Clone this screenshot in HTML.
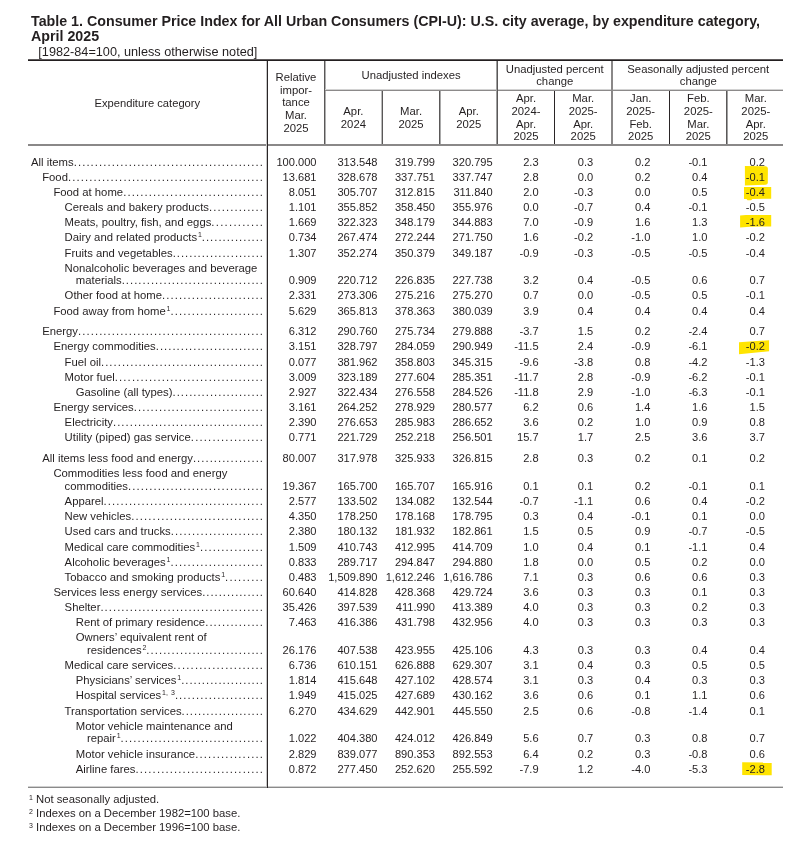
<!DOCTYPE html>
<html><head><meta charset="utf-8">
<style>
html,body{margin:0;padding:0;background:#fff;}
body{will-change:transform;width:805px;height:845px;position:relative;overflow:hidden;font-family:"Liberation Sans",sans-serif;color:#231f20;}
.t{position:absolute;white-space:nowrap;line-height:1;}
.sup{font-size:7.0px;position:relative;top:-3.6px;margin-left:0.8px;word-spacing:1.2px;}
.ln{position:absolute;background:#231f20;}
.hl{position:absolute;}
</style></head><body>
<svg width="805" height="845" style="position:absolute;left:0;top:0">
<g fill="#ffe400">
<path d="M744.9 166 L765.8 166.3 Q767.9 166.5 767.9 168.6 L767.8 183 Q767.6 184.7 765.5 184.8 L744.9 185.4 Z"/>
<path d="M744 187.1 L771.2 187.1 L771.2 198.8 L752.5 198.9 L751 200.2 L747.5 200.3 L746.5 198.9 L744 198.9 Z"/>
<path d="M740.1 215.6 L746 215.1 L771.2 215.0 L771.2 226.4 L750 226.8 L740.1 227.6 Z"/>
<path d="M739 342.2 L769.1 340.3 L769.1 351.3 L739 354.3 Z"/>
<path d="M742.2 762.2 L771.7 762.6 L771.7 775.2 L742.2 775.0 Z"/>
</g>
</svg>
<div class="ln" style="left:28px;top:59px;width:755px;height:1px;background:#5e5a5b"></div>
<div class="ln" style="left:28px;top:60px;width:755px;height:1px;background:#231f20"></div>
<div class="ln" style="left:28px;top:144px;width:755px;height:1px;background:#8a8888"></div>
<div class="ln" style="left:28px;top:145px;width:755px;height:1px;background:#8a8888"></div>
<div class="ln" style="left:28px;top:786px;width:755px;height:1px;background:#d0d0d0"></div>
<div class="ln" style="left:28px;top:787px;width:755px;height:1px;background:#8a8a8a"></div>
<div class="ln" style="left:325px;top:89px;width:458px;height:1px;background:#d2d2d2"></div>
<div class="ln" style="left:325px;top:90px;width:458px;height:1px;background:#8c8a8a"></div>
<div class="ln" style="left:324px;top:61px;width:1px;height:83px;background:#5a5858"></div>
<div class="ln" style="left:325px;top:61px;width:1px;height:28px;background:#b0b0b0"></div>
<div class="ln" style="left:325px;top:91px;width:1px;height:53px;background:#b0b0b0"></div>
<div class="ln" style="left:497px;top:61px;width:1px;height:83px;background:#5a5858"></div>
<div class="ln" style="left:496px;top:61px;width:1px;height:83px;background:#a0a0a0"></div>
<div class="ln" style="left:611px;top:61px;width:1px;height:83px;background:#8a8888"></div>
<div class="ln" style="left:612px;top:61px;width:1px;height:83px;background:#8a8888"></div>
<div class="ln" style="left:266px;top:61px;width:1px;height:726px;background:#c8c8c8"></div>
<div class="ln" style="left:267px;top:61px;width:1px;height:727px;background:#2a2526"></div>
<div class="ln" style="left:382px;top:91px;width:1px;height:53px;background:#5a5858"></div>
<div class="ln" style="left:381px;top:91px;width:1px;height:53px;background:#bbbbbb"></div>
<div class="ln" style="left:439px;top:91px;width:1px;height:53px;background:#5a5858"></div>
<div class="ln" style="left:440px;top:91px;width:1px;height:53px;background:#aaaaaa"></div>
<div class="ln" style="left:554px;top:91px;width:1px;height:53px;background:#2a2526"></div>
<div class="ln" style="left:669px;top:91px;width:1px;height:53px;background:#2a2526"></div>
<div class="ln" style="left:726px;top:91px;width:1px;height:53px;background:#5a5858"></div>
<div class="ln" style="left:727px;top:91px;width:1px;height:53px;background:#a0a0a0"></div>
<div class="t" style="left:31.00px;top:157.00px;font-size:11.3px;font-weight:normal;">All items</div>
<div class="t dots" style="left:73.70px;top:157px;font-size:11.3px;letter-spacing:1.091px">.............................................</div>
<div class="t" style="right:488.50px;top:157.00px;font-size:11.1px;font-weight:normal;">100.000</div>
<div class="t" style="right:427.50px;top:157.00px;font-size:11.1px;font-weight:normal;">313.548</div>
<div class="t" style="right:370.00px;top:157.00px;font-size:11.1px;font-weight:normal;">319.799</div>
<div class="t" style="right:312.30px;top:157.00px;font-size:11.1px;font-weight:normal;">320.795</div>
<div class="t" style="right:266.40px;top:157.00px;font-size:11.1px;font-weight:normal;">2.3</div>
<div class="t" style="right:211.80px;top:157.00px;font-size:11.1px;font-weight:normal;">0.3</div>
<div class="t" style="right:154.70px;top:157.00px;font-size:11.1px;font-weight:normal;">0.2</div>
<div class="t" style="right:97.50px;top:157.00px;font-size:11.1px;font-weight:normal;">-0.1</div>
<div class="t" style="right:40.10px;top:157.00px;font-size:11.1px;font-weight:normal;">0.2</div>
<div class="t" style="left:42.20px;top:172.00px;font-size:11.3px;font-weight:normal;">Food</div>
<div class="t dots" style="left:67.96px;top:172px;font-size:11.3px;letter-spacing:1.125px">..............................................</div>
<div class="t" style="right:488.50px;top:172.00px;font-size:11.1px;font-weight:normal;">13.681</div>
<div class="t" style="right:427.50px;top:172.00px;font-size:11.1px;font-weight:normal;">328.678</div>
<div class="t" style="right:370.00px;top:172.00px;font-size:11.1px;font-weight:normal;">337.751</div>
<div class="t" style="right:312.30px;top:172.00px;font-size:11.1px;font-weight:normal;">337.747</div>
<div class="t" style="right:266.40px;top:172.00px;font-size:11.1px;font-weight:normal;">2.8</div>
<div class="t" style="right:211.80px;top:172.00px;font-size:11.1px;font-weight:normal;">0.0</div>
<div class="t" style="right:154.70px;top:172.00px;font-size:11.1px;font-weight:normal;">0.2</div>
<div class="t" style="right:97.50px;top:172.00px;font-size:11.1px;font-weight:normal;">0.4</div>
<div class="t" style="right:40.10px;top:172.00px;font-size:11.1px;font-weight:normal;">-0.1</div>
<div class="t" style="left:53.40px;top:187.00px;font-size:11.3px;font-weight:normal;">Food at home</div>
<div class="t dots" style="left:123.13px;top:187px;font-size:11.3px;letter-spacing:1.133px">.................................</div>
<div class="t" style="right:488.50px;top:187.00px;font-size:11.1px;font-weight:normal;">8.051</div>
<div class="t" style="right:427.50px;top:187.00px;font-size:11.1px;font-weight:normal;">305.707</div>
<div class="t" style="right:370.00px;top:187.00px;font-size:11.1px;font-weight:normal;">312.815</div>
<div class="t" style="right:312.30px;top:187.00px;font-size:11.1px;font-weight:normal;">311.840</div>
<div class="t" style="right:266.40px;top:187.00px;font-size:11.1px;font-weight:normal;">2.0</div>
<div class="t" style="right:211.80px;top:187.00px;font-size:11.1px;font-weight:normal;">-0.3</div>
<div class="t" style="right:154.70px;top:187.00px;font-size:11.1px;font-weight:normal;">0.0</div>
<div class="t" style="right:97.50px;top:187.00px;font-size:11.1px;font-weight:normal;">0.5</div>
<div class="t" style="right:40.10px;top:187.00px;font-size:11.1px;font-weight:normal;">-0.4</div>
<div class="t" style="left:64.60px;top:202.00px;font-size:11.3px;font-weight:normal;">Cereals and bakery products</div>
<div class="t dots" style="left:209.07px;top:202px;font-size:11.3px;letter-spacing:1.091px">.............</div>
<div class="t" style="right:488.50px;top:202.00px;font-size:11.1px;font-weight:normal;">1.101</div>
<div class="t" style="right:427.50px;top:202.00px;font-size:11.1px;font-weight:normal;">355.852</div>
<div class="t" style="right:370.00px;top:202.00px;font-size:11.1px;font-weight:normal;">358.450</div>
<div class="t" style="right:312.30px;top:202.00px;font-size:11.1px;font-weight:normal;">355.976</div>
<div class="t" style="right:266.40px;top:202.00px;font-size:11.1px;font-weight:normal;">0.0</div>
<div class="t" style="right:211.80px;top:202.00px;font-size:11.1px;font-weight:normal;">-0.7</div>
<div class="t" style="right:154.70px;top:202.00px;font-size:11.1px;font-weight:normal;">0.4</div>
<div class="t" style="right:97.50px;top:202.00px;font-size:11.1px;font-weight:normal;">-0.1</div>
<div class="t" style="right:40.10px;top:202.00px;font-size:11.1px;font-weight:normal;">-0.5</div>
<div class="t" style="left:64.60px;top:217.00px;font-size:11.3px;font-weight:normal;">Meats, poultry, fish, and eggs</div>
<div class="t dots" style="left:211.37px;top:217px;font-size:11.3px;letter-spacing:1.267px">............</div>
<div class="t" style="right:488.50px;top:217.00px;font-size:11.1px;font-weight:normal;">1.669</div>
<div class="t" style="right:427.50px;top:217.00px;font-size:11.1px;font-weight:normal;">322.323</div>
<div class="t" style="right:370.00px;top:217.00px;font-size:11.1px;font-weight:normal;">348.179</div>
<div class="t" style="right:312.30px;top:217.00px;font-size:11.1px;font-weight:normal;">344.883</div>
<div class="t" style="right:266.40px;top:217.00px;font-size:11.1px;font-weight:normal;">7.0</div>
<div class="t" style="right:211.80px;top:217.00px;font-size:11.1px;font-weight:normal;">-0.9</div>
<div class="t" style="right:154.70px;top:217.00px;font-size:11.1px;font-weight:normal;">1.6</div>
<div class="t" style="right:97.50px;top:217.00px;font-size:11.1px;font-weight:normal;">1.3</div>
<div class="t" style="right:40.10px;top:217.00px;font-size:11.1px;font-weight:normal;">-1.6</div>
<div class="t" style="left:64.60px;top:232.00px;font-size:11.3px;font-weight:normal;">Dairy and related products<span class="sup">1</span></div>
<div class="t dots" style="left:201.83px;top:232px;font-size:11.3px;letter-spacing:1.004px">...............</div>
<div class="t" style="right:488.50px;top:232.00px;font-size:11.1px;font-weight:normal;">0.734</div>
<div class="t" style="right:427.50px;top:232.00px;font-size:11.1px;font-weight:normal;">267.474</div>
<div class="t" style="right:370.00px;top:232.00px;font-size:11.1px;font-weight:normal;">272.244</div>
<div class="t" style="right:312.30px;top:232.00px;font-size:11.1px;font-weight:normal;">271.750</div>
<div class="t" style="right:266.40px;top:232.00px;font-size:11.1px;font-weight:normal;">1.6</div>
<div class="t" style="right:211.80px;top:232.00px;font-size:11.1px;font-weight:normal;">-0.2</div>
<div class="t" style="right:154.70px;top:232.00px;font-size:11.1px;font-weight:normal;">-1.0</div>
<div class="t" style="right:97.50px;top:232.00px;font-size:11.1px;font-weight:normal;">1.0</div>
<div class="t" style="right:40.10px;top:232.00px;font-size:11.1px;font-weight:normal;">-0.2</div>
<div class="t" style="left:64.60px;top:248.00px;font-size:11.3px;font-weight:normal;">Fruits and vegetables</div>
<div class="t dots" style="left:172.64px;top:248px;font-size:11.3px;letter-spacing:1.013px">......................</div>
<div class="t" style="right:488.50px;top:248.00px;font-size:11.1px;font-weight:normal;">1.307</div>
<div class="t" style="right:427.50px;top:248.00px;font-size:11.1px;font-weight:normal;">352.274</div>
<div class="t" style="right:370.00px;top:248.00px;font-size:11.1px;font-weight:normal;">350.379</div>
<div class="t" style="right:312.30px;top:248.00px;font-size:11.1px;font-weight:normal;">349.187</div>
<div class="t" style="right:266.40px;top:248.00px;font-size:11.1px;font-weight:normal;">-0.9</div>
<div class="t" style="right:211.80px;top:248.00px;font-size:11.1px;font-weight:normal;">-0.3</div>
<div class="t" style="right:154.70px;top:248.00px;font-size:11.1px;font-weight:normal;">-0.5</div>
<div class="t" style="right:97.50px;top:248.00px;font-size:11.1px;font-weight:normal;">-0.5</div>
<div class="t" style="right:40.10px;top:248.00px;font-size:11.1px;font-weight:normal;">-0.4</div>
<div class="t" style="left:64.60px;top:263.00px;font-size:11.3px;font-weight:normal;">Nonalcoholic beverages and beverage</div>
<div class="t" style="left:75.80px;top:275.00px;font-size:11.3px;font-weight:normal;">materials</div>
<div class="t dots" style="left:121.64px;top:275px;font-size:11.3px;letter-spacing:1.048px">..................................</div>
<div class="t" style="right:488.50px;top:275.00px;font-size:11.1px;font-weight:normal;">0.909</div>
<div class="t" style="right:427.50px;top:275.00px;font-size:11.1px;font-weight:normal;">220.712</div>
<div class="t" style="right:370.00px;top:275.00px;font-size:11.1px;font-weight:normal;">226.835</div>
<div class="t" style="right:312.30px;top:275.00px;font-size:11.1px;font-weight:normal;">227.738</div>
<div class="t" style="right:266.40px;top:275.00px;font-size:11.1px;font-weight:normal;">3.2</div>
<div class="t" style="right:211.80px;top:275.00px;font-size:11.1px;font-weight:normal;">0.4</div>
<div class="t" style="right:154.70px;top:275.00px;font-size:11.1px;font-weight:normal;">-0.5</div>
<div class="t" style="right:97.50px;top:275.00px;font-size:11.1px;font-weight:normal;">0.6</div>
<div class="t" style="right:40.10px;top:275.00px;font-size:11.1px;font-weight:normal;">0.7</div>
<div class="t" style="left:64.60px;top:290.00px;font-size:11.3px;font-weight:normal;">Other food at home</div>
<div class="t dots" style="left:161.96px;top:290px;font-size:11.3px;letter-spacing:1.116px">........................</div>
<div class="t" style="right:488.50px;top:290.00px;font-size:11.1px;font-weight:normal;">2.331</div>
<div class="t" style="right:427.50px;top:290.00px;font-size:11.1px;font-weight:normal;">273.306</div>
<div class="t" style="right:370.00px;top:290.00px;font-size:11.1px;font-weight:normal;">275.216</div>
<div class="t" style="right:312.30px;top:290.00px;font-size:11.1px;font-weight:normal;">275.270</div>
<div class="t" style="right:266.40px;top:290.00px;font-size:11.1px;font-weight:normal;">0.7</div>
<div class="t" style="right:211.80px;top:290.00px;font-size:11.1px;font-weight:normal;">0.0</div>
<div class="t" style="right:154.70px;top:290.00px;font-size:11.1px;font-weight:normal;">-0.5</div>
<div class="t" style="right:97.50px;top:290.00px;font-size:11.1px;font-weight:normal;">0.5</div>
<div class="t" style="right:40.10px;top:290.00px;font-size:11.1px;font-weight:normal;">-0.1</div>
<div class="t" style="left:53.40px;top:306.00px;font-size:11.3px;font-weight:normal;">Food away from home<span class="sup">1</span></div>
<div class="t dots" style="left:170.51px;top:306px;font-size:11.3px;letter-spacing:1.114px">......................</div>
<div class="t" style="right:488.50px;top:306.00px;font-size:11.1px;font-weight:normal;">5.629</div>
<div class="t" style="right:427.50px;top:306.00px;font-size:11.1px;font-weight:normal;">365.813</div>
<div class="t" style="right:370.00px;top:306.00px;font-size:11.1px;font-weight:normal;">378.363</div>
<div class="t" style="right:312.30px;top:306.00px;font-size:11.1px;font-weight:normal;">380.039</div>
<div class="t" style="right:266.40px;top:306.00px;font-size:11.1px;font-weight:normal;">3.9</div>
<div class="t" style="right:211.80px;top:306.00px;font-size:11.1px;font-weight:normal;">0.4</div>
<div class="t" style="right:154.70px;top:306.00px;font-size:11.1px;font-weight:normal;">0.4</div>
<div class="t" style="right:97.50px;top:306.00px;font-size:11.1px;font-weight:normal;">0.4</div>
<div class="t" style="right:40.10px;top:306.00px;font-size:11.1px;font-weight:normal;">0.4</div>
<div class="t" style="left:42.20px;top:326.00px;font-size:11.3px;font-weight:normal;">Energy</div>
<div class="t dots" style="left:78.00px;top:326px;font-size:11.3px;letter-spacing:1.089px">............................................</div>
<div class="t" style="right:488.50px;top:326.00px;font-size:11.1px;font-weight:normal;">6.312</div>
<div class="t" style="right:427.50px;top:326.00px;font-size:11.1px;font-weight:normal;">290.760</div>
<div class="t" style="right:370.00px;top:326.00px;font-size:11.1px;font-weight:normal;">275.734</div>
<div class="t" style="right:312.30px;top:326.00px;font-size:11.1px;font-weight:normal;">279.888</div>
<div class="t" style="right:266.40px;top:326.00px;font-size:11.1px;font-weight:normal;">-3.7</div>
<div class="t" style="right:211.80px;top:326.00px;font-size:11.1px;font-weight:normal;">1.5</div>
<div class="t" style="right:154.70px;top:326.00px;font-size:11.1px;font-weight:normal;">0.2</div>
<div class="t" style="right:97.50px;top:326.00px;font-size:11.1px;font-weight:normal;">-2.4</div>
<div class="t" style="right:40.10px;top:326.00px;font-size:11.1px;font-weight:normal;">0.7</div>
<div class="t" style="left:53.40px;top:341.00px;font-size:11.3px;font-weight:normal;">Energy commodities</div>
<div class="t dots" style="left:155.77px;top:341px;font-size:11.3px;letter-spacing:1.023px">..........................</div>
<div class="t" style="right:488.50px;top:341.00px;font-size:11.1px;font-weight:normal;">3.151</div>
<div class="t" style="right:427.50px;top:341.00px;font-size:11.1px;font-weight:normal;">328.797</div>
<div class="t" style="right:370.00px;top:341.00px;font-size:11.1px;font-weight:normal;">284.059</div>
<div class="t" style="right:312.30px;top:341.00px;font-size:11.1px;font-weight:normal;">290.949</div>
<div class="t" style="right:266.40px;top:341.00px;font-size:11.1px;font-weight:normal;">-11.5</div>
<div class="t" style="right:211.80px;top:341.00px;font-size:11.1px;font-weight:normal;">2.4</div>
<div class="t" style="right:154.70px;top:341.00px;font-size:11.1px;font-weight:normal;">-0.9</div>
<div class="t" style="right:97.50px;top:341.00px;font-size:11.1px;font-weight:normal;">-6.1</div>
<div class="t" style="right:40.10px;top:341.00px;font-size:11.1px;font-weight:normal;">-0.2</div>
<div class="t" style="left:64.60px;top:357.00px;font-size:11.3px;font-weight:normal;">Fuel oil</div>
<div class="t dots" style="left:101.03px;top:357px;font-size:11.3px;letter-spacing:1.040px">.......................................</div>
<div class="t" style="right:488.50px;top:357.00px;font-size:11.1px;font-weight:normal;">0.077</div>
<div class="t" style="right:427.50px;top:357.00px;font-size:11.1px;font-weight:normal;">381.962</div>
<div class="t" style="right:370.00px;top:357.00px;font-size:11.1px;font-weight:normal;">358.803</div>
<div class="t" style="right:312.30px;top:357.00px;font-size:11.1px;font-weight:normal;">345.315</div>
<div class="t" style="right:266.40px;top:357.00px;font-size:11.1px;font-weight:normal;">-9.6</div>
<div class="t" style="right:211.80px;top:357.00px;font-size:11.1px;font-weight:normal;">-3.8</div>
<div class="t" style="right:154.70px;top:357.00px;font-size:11.1px;font-weight:normal;">0.8</div>
<div class="t" style="right:97.50px;top:357.00px;font-size:11.1px;font-weight:normal;">-4.2</div>
<div class="t" style="right:40.10px;top:357.00px;font-size:11.1px;font-weight:normal;">-1.3</div>
<div class="t" style="left:64.60px;top:372.00px;font-size:11.3px;font-weight:normal;">Motor fuel</div>
<div class="t dots" style="left:114.84px;top:372px;font-size:11.3px;letter-spacing:1.125px">...................................</div>
<div class="t" style="right:488.50px;top:372.00px;font-size:11.1px;font-weight:normal;">3.009</div>
<div class="t" style="right:427.50px;top:372.00px;font-size:11.1px;font-weight:normal;">323.189</div>
<div class="t" style="right:370.00px;top:372.00px;font-size:11.1px;font-weight:normal;">277.604</div>
<div class="t" style="right:312.30px;top:372.00px;font-size:11.1px;font-weight:normal;">285.351</div>
<div class="t" style="right:266.40px;top:372.00px;font-size:11.1px;font-weight:normal;">-11.7</div>
<div class="t" style="right:211.80px;top:372.00px;font-size:11.1px;font-weight:normal;">2.8</div>
<div class="t" style="right:154.70px;top:372.00px;font-size:11.1px;font-weight:normal;">-0.9</div>
<div class="t" style="right:97.50px;top:372.00px;font-size:11.1px;font-weight:normal;">-6.2</div>
<div class="t" style="right:40.10px;top:372.00px;font-size:11.1px;font-weight:normal;">-0.1</div>
<div class="t" style="left:75.80px;top:387.00px;font-size:11.3px;font-weight:normal;">Gasoline (all types)</div>
<div class="t dots" style="left:172.52px;top:387px;font-size:11.3px;letter-spacing:1.018px">......................</div>
<div class="t" style="right:488.50px;top:387.00px;font-size:11.1px;font-weight:normal;">2.927</div>
<div class="t" style="right:427.50px;top:387.00px;font-size:11.1px;font-weight:normal;">322.434</div>
<div class="t" style="right:370.00px;top:387.00px;font-size:11.1px;font-weight:normal;">276.558</div>
<div class="t" style="right:312.30px;top:387.00px;font-size:11.1px;font-weight:normal;">284.526</div>
<div class="t" style="right:266.40px;top:387.00px;font-size:11.1px;font-weight:normal;">-11.8</div>
<div class="t" style="right:211.80px;top:387.00px;font-size:11.1px;font-weight:normal;">2.9</div>
<div class="t" style="right:154.70px;top:387.00px;font-size:11.1px;font-weight:normal;">-1.0</div>
<div class="t" style="right:97.50px;top:387.00px;font-size:11.1px;font-weight:normal;">-6.3</div>
<div class="t" style="right:40.10px;top:387.00px;font-size:11.1px;font-weight:normal;">-0.1</div>
<div class="t" style="left:53.40px;top:402.00px;font-size:11.3px;font-weight:normal;">Energy services</div>
<div class="t dots" style="left:133.79px;top:402px;font-size:11.3px;letter-spacing:1.062px">...............................</div>
<div class="t" style="right:488.50px;top:402.00px;font-size:11.1px;font-weight:normal;">3.161</div>
<div class="t" style="right:427.50px;top:402.00px;font-size:11.1px;font-weight:normal;">264.252</div>
<div class="t" style="right:370.00px;top:402.00px;font-size:11.1px;font-weight:normal;">278.929</div>
<div class="t" style="right:312.30px;top:402.00px;font-size:11.1px;font-weight:normal;">280.577</div>
<div class="t" style="right:266.40px;top:402.00px;font-size:11.1px;font-weight:normal;">6.2</div>
<div class="t" style="right:211.80px;top:402.00px;font-size:11.1px;font-weight:normal;">0.6</div>
<div class="t" style="right:154.70px;top:402.00px;font-size:11.1px;font-weight:normal;">1.4</div>
<div class="t" style="right:97.50px;top:402.00px;font-size:11.1px;font-weight:normal;">1.6</div>
<div class="t" style="right:40.10px;top:402.00px;font-size:11.1px;font-weight:normal;">1.5</div>
<div class="t" style="left:64.60px;top:417.00px;font-size:11.3px;font-weight:normal;">Electricity</div>
<div class="t dots" style="left:112.95px;top:417px;font-size:11.3px;letter-spacing:1.057px">....................................</div>
<div class="t" style="right:488.50px;top:417.00px;font-size:11.1px;font-weight:normal;">2.390</div>
<div class="t" style="right:427.50px;top:417.00px;font-size:11.1px;font-weight:normal;">276.653</div>
<div class="t" style="right:370.00px;top:417.00px;font-size:11.1px;font-weight:normal;">285.983</div>
<div class="t" style="right:312.30px;top:417.00px;font-size:11.1px;font-weight:normal;">286.652</div>
<div class="t" style="right:266.40px;top:417.00px;font-size:11.1px;font-weight:normal;">3.6</div>
<div class="t" style="right:211.80px;top:417.00px;font-size:11.1px;font-weight:normal;">0.2</div>
<div class="t" style="right:154.70px;top:417.00px;font-size:11.1px;font-weight:normal;">1.0</div>
<div class="t" style="right:97.50px;top:417.00px;font-size:11.1px;font-weight:normal;">0.9</div>
<div class="t" style="right:40.10px;top:417.00px;font-size:11.1px;font-weight:normal;">0.8</div>
<div class="t" style="left:64.60px;top:432.00px;font-size:11.3px;font-weight:normal;">Utility (piped) gas service</div>
<div class="t dots" style="left:190.83px;top:432px;font-size:11.3px;letter-spacing:1.174px">.................</div>
<div class="t" style="right:488.50px;top:432.00px;font-size:11.1px;font-weight:normal;">0.771</div>
<div class="t" style="right:427.50px;top:432.00px;font-size:11.1px;font-weight:normal;">221.729</div>
<div class="t" style="right:370.00px;top:432.00px;font-size:11.1px;font-weight:normal;">252.218</div>
<div class="t" style="right:312.30px;top:432.00px;font-size:11.1px;font-weight:normal;">256.501</div>
<div class="t" style="right:266.40px;top:432.00px;font-size:11.1px;font-weight:normal;">15.7</div>
<div class="t" style="right:211.80px;top:432.00px;font-size:11.1px;font-weight:normal;">1.7</div>
<div class="t" style="right:154.70px;top:432.00px;font-size:11.1px;font-weight:normal;">2.5</div>
<div class="t" style="right:97.50px;top:432.00px;font-size:11.1px;font-weight:normal;">3.6</div>
<div class="t" style="right:40.10px;top:432.00px;font-size:11.1px;font-weight:normal;">3.7</div>
<div class="t" style="left:42.20px;top:453.00px;font-size:11.3px;font-weight:normal;">All items less food and energy</div>
<div class="t dots" style="left:192.95px;top:453px;font-size:11.3px;letter-spacing:1.041px">.................</div>
<div class="t" style="right:488.50px;top:453.00px;font-size:11.1px;font-weight:normal;">80.007</div>
<div class="t" style="right:427.50px;top:453.00px;font-size:11.1px;font-weight:normal;">317.978</div>
<div class="t" style="right:370.00px;top:453.00px;font-size:11.1px;font-weight:normal;">325.933</div>
<div class="t" style="right:312.30px;top:453.00px;font-size:11.1px;font-weight:normal;">326.815</div>
<div class="t" style="right:266.40px;top:453.00px;font-size:11.1px;font-weight:normal;">2.8</div>
<div class="t" style="right:211.80px;top:453.00px;font-size:11.1px;font-weight:normal;">0.3</div>
<div class="t" style="right:154.70px;top:453.00px;font-size:11.1px;font-weight:normal;">0.2</div>
<div class="t" style="right:97.50px;top:453.00px;font-size:11.1px;font-weight:normal;">0.1</div>
<div class="t" style="right:40.10px;top:453.00px;font-size:11.1px;font-weight:normal;">0.2</div>
<div class="t" style="left:53.40px;top:468.00px;font-size:11.3px;font-weight:normal;">Commodities less food and energy</div>
<div class="t" style="left:64.60px;top:481.00px;font-size:11.3px;font-weight:normal;">commodities</div>
<div class="t dots" style="left:128.02px;top:481px;font-size:11.3px;letter-spacing:1.112px">................................</div>
<div class="t" style="right:488.50px;top:481.00px;font-size:11.1px;font-weight:normal;">19.367</div>
<div class="t" style="right:427.50px;top:481.00px;font-size:11.1px;font-weight:normal;">165.700</div>
<div class="t" style="right:370.00px;top:481.00px;font-size:11.1px;font-weight:normal;">165.707</div>
<div class="t" style="right:312.30px;top:481.00px;font-size:11.1px;font-weight:normal;">165.916</div>
<div class="t" style="right:266.40px;top:481.00px;font-size:11.1px;font-weight:normal;">0.1</div>
<div class="t" style="right:211.80px;top:481.00px;font-size:11.1px;font-weight:normal;">0.1</div>
<div class="t" style="right:154.70px;top:481.00px;font-size:11.1px;font-weight:normal;">0.2</div>
<div class="t" style="right:97.50px;top:481.00px;font-size:11.1px;font-weight:normal;">-0.1</div>
<div class="t" style="right:40.10px;top:481.00px;font-size:11.1px;font-weight:normal;">0.1</div>
<div class="t" style="left:64.60px;top:496.00px;font-size:11.3px;font-weight:normal;">Apparel</div>
<div class="t dots" style="left:103.55px;top:496px;font-size:11.3px;letter-spacing:1.084px">......................................</div>
<div class="t" style="right:488.50px;top:496.00px;font-size:11.1px;font-weight:normal;">2.577</div>
<div class="t" style="right:427.50px;top:496.00px;font-size:11.1px;font-weight:normal;">133.502</div>
<div class="t" style="right:370.00px;top:496.00px;font-size:11.1px;font-weight:normal;">134.082</div>
<div class="t" style="right:312.30px;top:496.00px;font-size:11.1px;font-weight:normal;">132.544</div>
<div class="t" style="right:266.40px;top:496.00px;font-size:11.1px;font-weight:normal;">-0.7</div>
<div class="t" style="right:211.80px;top:496.00px;font-size:11.1px;font-weight:normal;">-1.1</div>
<div class="t" style="right:154.70px;top:496.00px;font-size:11.1px;font-weight:normal;">0.6</div>
<div class="t" style="right:97.50px;top:496.00px;font-size:11.1px;font-weight:normal;">0.4</div>
<div class="t" style="right:40.10px;top:496.00px;font-size:11.1px;font-weight:normal;">-0.2</div>
<div class="t" style="left:64.60px;top:511.00px;font-size:11.3px;font-weight:normal;">New vehicles</div>
<div class="t dots" style="left:131.17px;top:511px;font-size:11.3px;letter-spacing:1.149px">...............................</div>
<div class="t" style="right:488.50px;top:511.00px;font-size:11.1px;font-weight:normal;">4.350</div>
<div class="t" style="right:427.50px;top:511.00px;font-size:11.1px;font-weight:normal;">178.250</div>
<div class="t" style="right:370.00px;top:511.00px;font-size:11.1px;font-weight:normal;">178.168</div>
<div class="t" style="right:312.30px;top:511.00px;font-size:11.1px;font-weight:normal;">178.795</div>
<div class="t" style="right:266.40px;top:511.00px;font-size:11.1px;font-weight:normal;">0.3</div>
<div class="t" style="right:211.80px;top:511.00px;font-size:11.1px;font-weight:normal;">0.4</div>
<div class="t" style="right:154.70px;top:511.00px;font-size:11.1px;font-weight:normal;">-0.1</div>
<div class="t" style="right:97.50px;top:511.00px;font-size:11.1px;font-weight:normal;">0.1</div>
<div class="t" style="right:40.10px;top:511.00px;font-size:11.1px;font-weight:normal;">0.0</div>
<div class="t" style="left:64.60px;top:526.00px;font-size:11.3px;font-weight:normal;">Used cars and trucks</div>
<div class="t dots" style="left:170.74px;top:526px;font-size:11.3px;letter-spacing:1.103px">......................</div>
<div class="t" style="right:488.50px;top:526.00px;font-size:11.1px;font-weight:normal;">2.380</div>
<div class="t" style="right:427.50px;top:526.00px;font-size:11.1px;font-weight:normal;">180.132</div>
<div class="t" style="right:370.00px;top:526.00px;font-size:11.1px;font-weight:normal;">181.932</div>
<div class="t" style="right:312.30px;top:526.00px;font-size:11.1px;font-weight:normal;">182.861</div>
<div class="t" style="right:266.40px;top:526.00px;font-size:11.1px;font-weight:normal;">1.5</div>
<div class="t" style="right:211.80px;top:526.00px;font-size:11.1px;font-weight:normal;">0.5</div>
<div class="t" style="right:154.70px;top:526.00px;font-size:11.1px;font-weight:normal;">0.9</div>
<div class="t" style="right:97.50px;top:526.00px;font-size:11.1px;font-weight:normal;">-0.7</div>
<div class="t" style="right:40.10px;top:526.00px;font-size:11.1px;font-weight:normal;">-0.5</div>
<div class="t" style="left:64.60px;top:542.00px;font-size:11.3px;font-weight:normal;">Medical care commodities<span class="sup">1</span></div>
<div class="t dots" style="left:199.92px;top:542px;font-size:11.3px;letter-spacing:1.140px">...............</div>
<div class="t" style="right:488.50px;top:542.00px;font-size:11.1px;font-weight:normal;">1.509</div>
<div class="t" style="right:427.50px;top:542.00px;font-size:11.1px;font-weight:normal;">410.743</div>
<div class="t" style="right:370.00px;top:542.00px;font-size:11.1px;font-weight:normal;">412.995</div>
<div class="t" style="right:312.30px;top:542.00px;font-size:11.1px;font-weight:normal;">414.709</div>
<div class="t" style="right:266.40px;top:542.00px;font-size:11.1px;font-weight:normal;">1.0</div>
<div class="t" style="right:211.80px;top:542.00px;font-size:11.1px;font-weight:normal;">0.4</div>
<div class="t" style="right:154.70px;top:542.00px;font-size:11.1px;font-weight:normal;">0.1</div>
<div class="t" style="right:97.50px;top:542.00px;font-size:11.1px;font-weight:normal;">-1.1</div>
<div class="t" style="right:40.10px;top:542.00px;font-size:11.1px;font-weight:normal;">0.4</div>
<div class="t" style="left:64.60px;top:557.00px;font-size:11.3px;font-weight:normal;">Alcoholic beverages<span class="sup">1</span></div>
<div class="t dots" style="left:170.43px;top:557px;font-size:11.3px;letter-spacing:1.118px">......................</div>
<div class="t" style="right:488.50px;top:557.00px;font-size:11.1px;font-weight:normal;">0.833</div>
<div class="t" style="right:427.50px;top:557.00px;font-size:11.1px;font-weight:normal;">289.717</div>
<div class="t" style="right:370.00px;top:557.00px;font-size:11.1px;font-weight:normal;">294.847</div>
<div class="t" style="right:312.30px;top:557.00px;font-size:11.1px;font-weight:normal;">294.880</div>
<div class="t" style="right:266.40px;top:557.00px;font-size:11.1px;font-weight:normal;">1.8</div>
<div class="t" style="right:211.80px;top:557.00px;font-size:11.1px;font-weight:normal;">0.0</div>
<div class="t" style="right:154.70px;top:557.00px;font-size:11.1px;font-weight:normal;">0.5</div>
<div class="t" style="right:97.50px;top:557.00px;font-size:11.1px;font-weight:normal;">0.2</div>
<div class="t" style="right:40.10px;top:557.00px;font-size:11.1px;font-weight:normal;">0.0</div>
<div class="t" style="left:64.60px;top:572.00px;font-size:11.3px;font-weight:normal;">Tobacco and smoking products<span class="sup">1</span></div>
<div class="t dots" style="left:225.07px;top:572px;font-size:11.3px;letter-spacing:1.206px">.........</div>
<div class="t" style="right:488.50px;top:572.00px;font-size:11.1px;font-weight:normal;">0.483</div>
<div class="t" style="right:427.50px;top:572.00px;font-size:11.1px;font-weight:normal;">1,509.890</div>
<div class="t" style="right:370.00px;top:572.00px;font-size:11.1px;font-weight:normal;">1,612.246</div>
<div class="t" style="right:312.30px;top:572.00px;font-size:11.1px;font-weight:normal;">1,616.786</div>
<div class="t" style="right:266.40px;top:572.00px;font-size:11.1px;font-weight:normal;">7.1</div>
<div class="t" style="right:211.80px;top:572.00px;font-size:11.1px;font-weight:normal;">0.3</div>
<div class="t" style="right:154.70px;top:572.00px;font-size:11.1px;font-weight:normal;">0.6</div>
<div class="t" style="right:97.50px;top:572.00px;font-size:11.1px;font-weight:normal;">0.6</div>
<div class="t" style="right:40.10px;top:572.00px;font-size:11.1px;font-weight:normal;">0.3</div>
<div class="t" style="left:53.40px;top:587.00px;font-size:11.3px;font-weight:normal;">Services less energy services</div>
<div class="t dots" style="left:202.24px;top:587px;font-size:11.3px;letter-spacing:0.975px">...............</div>
<div class="t" style="right:488.50px;top:587.00px;font-size:11.1px;font-weight:normal;">60.640</div>
<div class="t" style="right:427.50px;top:587.00px;font-size:11.1px;font-weight:normal;">414.828</div>
<div class="t" style="right:370.00px;top:587.00px;font-size:11.1px;font-weight:normal;">428.368</div>
<div class="t" style="right:312.30px;top:587.00px;font-size:11.1px;font-weight:normal;">429.724</div>
<div class="t" style="right:266.40px;top:587.00px;font-size:11.1px;font-weight:normal;">3.6</div>
<div class="t" style="right:211.80px;top:587.00px;font-size:11.1px;font-weight:normal;">0.3</div>
<div class="t" style="right:154.70px;top:587.00px;font-size:11.1px;font-weight:normal;">0.3</div>
<div class="t" style="right:97.50px;top:587.00px;font-size:11.1px;font-weight:normal;">0.1</div>
<div class="t" style="right:40.10px;top:587.00px;font-size:11.1px;font-weight:normal;">0.3</div>
<div class="t" style="left:64.60px;top:602.00px;font-size:11.3px;font-weight:normal;">Shelter</div>
<div class="t dots" style="left:100.40px;top:602px;font-size:11.3px;letter-spacing:1.056px">.......................................</div>
<div class="t" style="right:488.50px;top:602.00px;font-size:11.1px;font-weight:normal;">35.426</div>
<div class="t" style="right:427.50px;top:602.00px;font-size:11.1px;font-weight:normal;">397.539</div>
<div class="t" style="right:370.00px;top:602.00px;font-size:11.1px;font-weight:normal;">411.990</div>
<div class="t" style="right:312.30px;top:602.00px;font-size:11.1px;font-weight:normal;">413.389</div>
<div class="t" style="right:266.40px;top:602.00px;font-size:11.1px;font-weight:normal;">4.0</div>
<div class="t" style="right:211.80px;top:602.00px;font-size:11.1px;font-weight:normal;">0.3</div>
<div class="t" style="right:154.70px;top:602.00px;font-size:11.1px;font-weight:normal;">0.3</div>
<div class="t" style="right:97.50px;top:602.00px;font-size:11.1px;font-weight:normal;">0.2</div>
<div class="t" style="right:40.10px;top:602.00px;font-size:11.1px;font-weight:normal;">0.3</div>
<div class="t" style="left:75.80px;top:617.00px;font-size:11.3px;font-weight:normal;">Rent of primary residence</div>
<div class="t dots" style="left:205.18px;top:617px;font-size:11.3px;letter-spacing:1.065px">..............</div>
<div class="t" style="right:488.50px;top:617.00px;font-size:11.1px;font-weight:normal;">7.463</div>
<div class="t" style="right:427.50px;top:617.00px;font-size:11.1px;font-weight:normal;">416.386</div>
<div class="t" style="right:370.00px;top:617.00px;font-size:11.1px;font-weight:normal;">431.798</div>
<div class="t" style="right:312.30px;top:617.00px;font-size:11.1px;font-weight:normal;">432.956</div>
<div class="t" style="right:266.40px;top:617.00px;font-size:11.1px;font-weight:normal;">4.0</div>
<div class="t" style="right:211.80px;top:617.00px;font-size:11.1px;font-weight:normal;">0.3</div>
<div class="t" style="right:154.70px;top:617.00px;font-size:11.1px;font-weight:normal;">0.3</div>
<div class="t" style="right:97.50px;top:617.00px;font-size:11.1px;font-weight:normal;">0.3</div>
<div class="t" style="right:40.10px;top:617.00px;font-size:11.1px;font-weight:normal;">0.3</div>
<div class="t" style="left:75.80px;top:632.00px;font-size:11.3px;font-weight:normal;">Owners’ equivalent rent of</div>
<div class="t" style="left:87.00px;top:645.00px;font-size:11.3px;font-weight:normal;">residences<span class="sup">2</span></div>
<div class="t dots" style="left:146.34px;top:645px;font-size:11.3px;letter-spacing:1.064px">............................</div>
<div class="t" style="right:488.50px;top:645.00px;font-size:11.1px;font-weight:normal;">26.176</div>
<div class="t" style="right:427.50px;top:645.00px;font-size:11.1px;font-weight:normal;">407.538</div>
<div class="t" style="right:370.00px;top:645.00px;font-size:11.1px;font-weight:normal;">423.955</div>
<div class="t" style="right:312.30px;top:645.00px;font-size:11.1px;font-weight:normal;">425.106</div>
<div class="t" style="right:266.40px;top:645.00px;font-size:11.1px;font-weight:normal;">4.3</div>
<div class="t" style="right:211.80px;top:645.00px;font-size:11.1px;font-weight:normal;">0.3</div>
<div class="t" style="right:154.70px;top:645.00px;font-size:11.1px;font-weight:normal;">0.3</div>
<div class="t" style="right:97.50px;top:645.00px;font-size:11.1px;font-weight:normal;">0.4</div>
<div class="t" style="right:40.10px;top:645.00px;font-size:11.1px;font-weight:normal;">0.4</div>
<div class="t" style="left:64.60px;top:660.00px;font-size:11.3px;font-weight:normal;">Medical care services</div>
<div class="t dots" style="left:173.24px;top:660px;font-size:11.3px;letter-spacing:1.190px">.....................</div>
<div class="t" style="right:488.50px;top:660.00px;font-size:11.1px;font-weight:normal;">6.736</div>
<div class="t" style="right:427.50px;top:660.00px;font-size:11.1px;font-weight:normal;">610.151</div>
<div class="t" style="right:370.00px;top:660.00px;font-size:11.1px;font-weight:normal;">626.888</div>
<div class="t" style="right:312.30px;top:660.00px;font-size:11.1px;font-weight:normal;">629.307</div>
<div class="t" style="right:266.40px;top:660.00px;font-size:11.1px;font-weight:normal;">3.1</div>
<div class="t" style="right:211.80px;top:660.00px;font-size:11.1px;font-weight:normal;">0.4</div>
<div class="t" style="right:154.70px;top:660.00px;font-size:11.1px;font-weight:normal;">0.3</div>
<div class="t" style="right:97.50px;top:660.00px;font-size:11.1px;font-weight:normal;">0.5</div>
<div class="t" style="right:40.10px;top:660.00px;font-size:11.1px;font-weight:normal;">0.5</div>
<div class="t" style="left:75.80px;top:675.00px;font-size:11.3px;font-weight:normal;">Physicians’ services<span class="sup">1</span></div>
<div class="t dots" style="left:181.18px;top:675px;font-size:11.3px;letter-spacing:1.000px">....................</div>
<div class="t" style="right:488.50px;top:675.00px;font-size:11.1px;font-weight:normal;">1.814</div>
<div class="t" style="right:427.50px;top:675.00px;font-size:11.1px;font-weight:normal;">415.648</div>
<div class="t" style="right:370.00px;top:675.00px;font-size:11.1px;font-weight:normal;">427.102</div>
<div class="t" style="right:312.30px;top:675.00px;font-size:11.1px;font-weight:normal;">428.574</div>
<div class="t" style="right:266.40px;top:675.00px;font-size:11.1px;font-weight:normal;">3.1</div>
<div class="t" style="right:211.80px;top:675.00px;font-size:11.1px;font-weight:normal;">0.3</div>
<div class="t" style="right:154.70px;top:675.00px;font-size:11.1px;font-weight:normal;">0.4</div>
<div class="t" style="right:97.50px;top:675.00px;font-size:11.1px;font-weight:normal;">0.3</div>
<div class="t" style="right:40.10px;top:675.00px;font-size:11.1px;font-weight:normal;">0.3</div>
<div class="t" style="left:75.80px;top:690.00px;font-size:11.3px;font-weight:normal;">Hospital services<span class="sup">1, 3</span></div>
<div class="t dots" style="left:174.88px;top:690px;font-size:11.3px;letter-spacing:1.108px">.....................</div>
<div class="t" style="right:488.50px;top:690.00px;font-size:11.1px;font-weight:normal;">1.949</div>
<div class="t" style="right:427.50px;top:690.00px;font-size:11.1px;font-weight:normal;">415.025</div>
<div class="t" style="right:370.00px;top:690.00px;font-size:11.1px;font-weight:normal;">427.689</div>
<div class="t" style="right:312.30px;top:690.00px;font-size:11.1px;font-weight:normal;">430.162</div>
<div class="t" style="right:266.40px;top:690.00px;font-size:11.1px;font-weight:normal;">3.6</div>
<div class="t" style="right:211.80px;top:690.00px;font-size:11.1px;font-weight:normal;">0.6</div>
<div class="t" style="right:154.70px;top:690.00px;font-size:11.1px;font-weight:normal;">0.1</div>
<div class="t" style="right:97.50px;top:690.00px;font-size:11.1px;font-weight:normal;">1.1</div>
<div class="t" style="right:40.10px;top:690.00px;font-size:11.1px;font-weight:normal;">0.6</div>
<div class="t" style="left:64.60px;top:706.00px;font-size:11.3px;font-weight:normal;">Transportation services</div>
<div class="t dots" style="left:181.62px;top:706px;font-size:11.3px;letter-spacing:0.977px">....................</div>
<div class="t" style="right:488.50px;top:706.00px;font-size:11.1px;font-weight:normal;">6.270</div>
<div class="t" style="right:427.50px;top:706.00px;font-size:11.1px;font-weight:normal;">434.629</div>
<div class="t" style="right:370.00px;top:706.00px;font-size:11.1px;font-weight:normal;">442.901</div>
<div class="t" style="right:312.30px;top:706.00px;font-size:11.1px;font-weight:normal;">445.550</div>
<div class="t" style="right:266.40px;top:706.00px;font-size:11.1px;font-weight:normal;">2.5</div>
<div class="t" style="right:211.80px;top:706.00px;font-size:11.1px;font-weight:normal;">0.6</div>
<div class="t" style="right:154.70px;top:706.00px;font-size:11.1px;font-weight:normal;">-0.8</div>
<div class="t" style="right:97.50px;top:706.00px;font-size:11.1px;font-weight:normal;">-1.4</div>
<div class="t" style="right:40.10px;top:706.00px;font-size:11.1px;font-weight:normal;">0.1</div>
<div class="t" style="left:75.80px;top:721.00px;font-size:11.3px;font-weight:normal;">Motor vehicle maintenance and</div>
<div class="t" style="left:87.00px;top:733.00px;font-size:11.3px;font-weight:normal;">repair<span class="sup">1</span></div>
<div class="t dots" style="left:120.58px;top:733px;font-size:11.3px;letter-spacing:1.080px">..................................</div>
<div class="t" style="right:488.50px;top:733.00px;font-size:11.1px;font-weight:normal;">1.022</div>
<div class="t" style="right:427.50px;top:733.00px;font-size:11.1px;font-weight:normal;">404.380</div>
<div class="t" style="right:370.00px;top:733.00px;font-size:11.1px;font-weight:normal;">424.012</div>
<div class="t" style="right:312.30px;top:733.00px;font-size:11.1px;font-weight:normal;">426.849</div>
<div class="t" style="right:266.40px;top:733.00px;font-size:11.1px;font-weight:normal;">5.6</div>
<div class="t" style="right:211.80px;top:733.00px;font-size:11.1px;font-weight:normal;">0.7</div>
<div class="t" style="right:154.70px;top:733.00px;font-size:11.1px;font-weight:normal;">0.3</div>
<div class="t" style="right:97.50px;top:733.00px;font-size:11.1px;font-weight:normal;">0.8</div>
<div class="t" style="right:40.10px;top:733.00px;font-size:11.1px;font-weight:normal;">0.7</div>
<div class="t" style="left:75.80px;top:749.00px;font-size:11.3px;font-weight:normal;">Motor vehicle insurance</div>
<div class="t dots" style="left:195.13px;top:749px;font-size:11.3px;letter-spacing:1.174px">................</div>
<div class="t" style="right:488.50px;top:749.00px;font-size:11.1px;font-weight:normal;">2.829</div>
<div class="t" style="right:427.50px;top:749.00px;font-size:11.1px;font-weight:normal;">839.077</div>
<div class="t" style="right:370.00px;top:749.00px;font-size:11.1px;font-weight:normal;">890.353</div>
<div class="t" style="right:312.30px;top:749.00px;font-size:11.1px;font-weight:normal;">892.553</div>
<div class="t" style="right:266.40px;top:749.00px;font-size:11.1px;font-weight:normal;">6.4</div>
<div class="t" style="right:211.80px;top:749.00px;font-size:11.1px;font-weight:normal;">0.2</div>
<div class="t" style="right:154.70px;top:749.00px;font-size:11.1px;font-weight:normal;">0.3</div>
<div class="t" style="right:97.50px;top:749.00px;font-size:11.1px;font-weight:normal;">-0.8</div>
<div class="t" style="right:40.10px;top:749.00px;font-size:11.1px;font-weight:normal;">0.6</div>
<div class="t" style="left:75.80px;top:764.00px;font-size:11.3px;font-weight:normal;">Airline fares</div>
<div class="t dots" style="left:135.46px;top:764px;font-size:11.3px;letter-spacing:1.149px">..............................</div>
<div class="t" style="right:488.50px;top:764.00px;font-size:11.1px;font-weight:normal;">0.872</div>
<div class="t" style="right:427.50px;top:764.00px;font-size:11.1px;font-weight:normal;">277.450</div>
<div class="t" style="right:370.00px;top:764.00px;font-size:11.1px;font-weight:normal;">252.620</div>
<div class="t" style="right:312.30px;top:764.00px;font-size:11.1px;font-weight:normal;">255.592</div>
<div class="t" style="right:266.40px;top:764.00px;font-size:11.1px;font-weight:normal;">-7.9</div>
<div class="t" style="right:211.80px;top:764.00px;font-size:11.1px;font-weight:normal;">1.2</div>
<div class="t" style="right:154.70px;top:764.00px;font-size:11.1px;font-weight:normal;">-4.0</div>
<div class="t" style="right:97.50px;top:764.00px;font-size:11.1px;font-weight:normal;">-5.3</div>
<div class="t" style="right:40.10px;top:764.00px;font-size:11.1px;font-weight:normal;">-2.8</div>
<div class="t" style="left:31.00px;top:14.00px;font-size:14.25px;font-weight:bold;">Table 1. Consumer Price Index for All Urban Consumers (CPI-U): U.S. city average, by expenditure category,</div>
<div class="t" style="left:31.00px;top:29.00px;font-size:14.25px;font-weight:bold;">April 2025</div>
<div class="t" style="left:38.30px;top:46.00px;font-size:12.7px;font-weight:normal;">[1982-84=100, unless otherwise noted]</div>
<div class="t" style="left:-52.70px;width:400px;text-align:center;top:98.00px;font-size:11.2px;font-weight:normal;">Expenditure category</div>
<div class="t" style="left:96.00px;width:400px;text-align:center;top:72.00px;font-size:11.3px;font-weight:normal;">Relative</div>
<div class="t" style="left:96.00px;width:400px;text-align:center;top:85.00px;font-size:11.3px;font-weight:normal;">impor-</div>
<div class="t" style="left:96.00px;width:400px;text-align:center;top:97.00px;font-size:11.3px;font-weight:normal;">tance</div>
<div class="t" style="left:96.00px;width:400px;text-align:center;top:110.00px;font-size:11.3px;font-weight:normal;">Mar.</div>
<div class="t" style="left:96.00px;width:400px;text-align:center;top:123.00px;font-size:11.3px;font-weight:normal;">2025</div>
<div class="t" style="left:211.10px;width:400px;text-align:center;top:70.00px;font-size:11.3px;font-weight:normal;">Unadjusted indexes</div>
<div class="t" style="left:153.40px;width:400px;text-align:center;top:106.00px;font-size:11.3px;font-weight:normal;">Apr.</div>
<div class="t" style="left:153.40px;width:400px;text-align:center;top:119.00px;font-size:11.3px;font-weight:normal;">2024</div>
<div class="t" style="left:211.10px;width:400px;text-align:center;top:106.00px;font-size:11.3px;font-weight:normal;">Mar.</div>
<div class="t" style="left:211.10px;width:400px;text-align:center;top:119.00px;font-size:11.3px;font-weight:normal;">2025</div>
<div class="t" style="left:268.80px;width:400px;text-align:center;top:106.00px;font-size:11.3px;font-weight:normal;">Apr.</div>
<div class="t" style="left:268.80px;width:400px;text-align:center;top:119.00px;font-size:11.3px;font-weight:normal;">2025</div>
<div class="t" style="left:354.75px;width:400px;text-align:center;top:64.00px;font-size:11.3px;font-weight:normal;">Unadjusted percent</div>
<div class="t" style="left:354.75px;width:400px;text-align:center;top:76.00px;font-size:11.3px;font-weight:normal;">change</div>
<div class="t" style="left:498.30px;width:400px;text-align:center;top:64.00px;font-size:11.3px;font-weight:normal;">Seasonally adjusted percent</div>
<div class="t" style="left:498.30px;width:400px;text-align:center;top:76.00px;font-size:11.3px;font-weight:normal;">change</div>
<div class="t" style="left:326.00px;width:400px;text-align:center;top:93.00px;font-size:11.3px;font-weight:normal;">Apr.</div>
<div class="t" style="left:326.00px;width:400px;text-align:center;top:106.00px;font-size:11.3px;font-weight:normal;">2024-</div>
<div class="t" style="left:326.00px;width:400px;text-align:center;top:119.00px;font-size:11.3px;font-weight:normal;">Apr.</div>
<div class="t" style="left:326.00px;width:400px;text-align:center;top:131.00px;font-size:11.3px;font-weight:normal;">2025</div>
<div class="t" style="left:383.20px;width:400px;text-align:center;top:93.00px;font-size:11.3px;font-weight:normal;">Mar.</div>
<div class="t" style="left:383.20px;width:400px;text-align:center;top:106.00px;font-size:11.3px;font-weight:normal;">2025-</div>
<div class="t" style="left:383.20px;width:400px;text-align:center;top:119.00px;font-size:11.3px;font-weight:normal;">Apr.</div>
<div class="t" style="left:383.20px;width:400px;text-align:center;top:131.00px;font-size:11.3px;font-weight:normal;">2025</div>
<div class="t" style="left:440.70px;width:400px;text-align:center;top:93.00px;font-size:11.3px;font-weight:normal;">Jan.</div>
<div class="t" style="left:440.70px;width:400px;text-align:center;top:106.00px;font-size:11.3px;font-weight:normal;">2025-</div>
<div class="t" style="left:440.70px;width:400px;text-align:center;top:119.00px;font-size:11.3px;font-weight:normal;">Feb.</div>
<div class="t" style="left:440.70px;width:400px;text-align:center;top:131.00px;font-size:11.3px;font-weight:normal;">2025</div>
<div class="t" style="left:498.30px;width:400px;text-align:center;top:93.00px;font-size:11.3px;font-weight:normal;">Feb.</div>
<div class="t" style="left:498.30px;width:400px;text-align:center;top:106.00px;font-size:11.3px;font-weight:normal;">2025-</div>
<div class="t" style="left:498.30px;width:400px;text-align:center;top:119.00px;font-size:11.3px;font-weight:normal;">Mar.</div>
<div class="t" style="left:498.30px;width:400px;text-align:center;top:131.00px;font-size:11.3px;font-weight:normal;">2025</div>
<div class="t" style="left:555.80px;width:400px;text-align:center;top:93.00px;font-size:11.3px;font-weight:normal;">Mar.</div>
<div class="t" style="left:555.80px;width:400px;text-align:center;top:106.00px;font-size:11.3px;font-weight:normal;">2025-</div>
<div class="t" style="left:555.80px;width:400px;text-align:center;top:119.00px;font-size:11.3px;font-weight:normal;">Apr.</div>
<div class="t" style="left:555.80px;width:400px;text-align:center;top:131.00px;font-size:11.3px;font-weight:normal;">2025</div>
<div class="t" style="left:29.00px;top:794.00px;font-size:7.0px;font-weight:normal;">1</div>
<div class="t" style="left:36.00px;top:794.00px;font-size:11.3px;font-weight:normal;">Not seasonally adjusted.</div>
<div class="t" style="left:29.00px;top:808.00px;font-size:7.0px;font-weight:normal;">2</div>
<div class="t" style="left:36.00px;top:808.00px;font-size:11.3px;font-weight:normal;">Indexes on a December 1982=100 base.</div>
<div class="t" style="left:29.00px;top:822.00px;font-size:7.0px;font-weight:normal;">3</div>
<div class="t" style="left:36.00px;top:822.00px;font-size:11.3px;font-weight:normal;">Indexes on a December 1996=100 base.</div>
</body></html>
